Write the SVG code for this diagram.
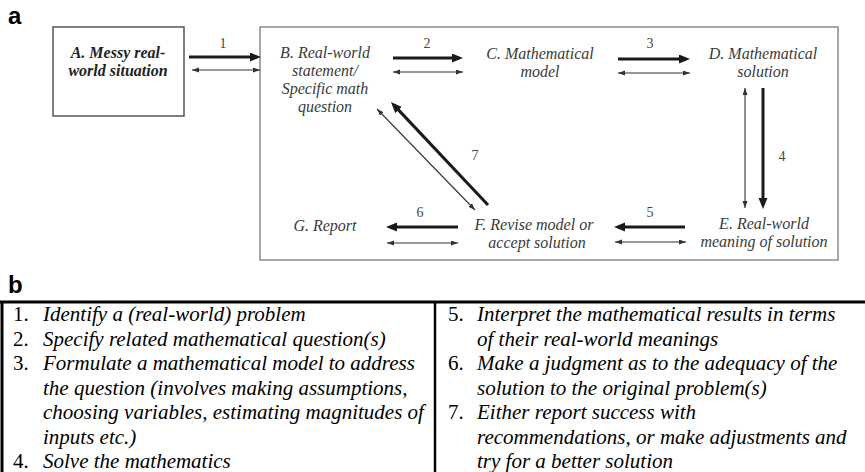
<svg xmlns="http://www.w3.org/2000/svg" width="865" height="472" viewBox="0 0 865 472">
  <style>
    .panel { font-family: "Liberation Sans", Arial, sans-serif; font-weight: bold; font-size: 24px; fill: #000; }
    .node text { font-family: "Liberation Serif", "Times New Roman", serif; font-style: italic; font-size: 16px; fill: #3a3a3a; text-anchor: middle; }
    .node .bold { font-weight: bold; fill: #222; }
    .lbl { font-family: "Liberation Serif", "Times New Roman", serif; font-size: 14px; fill: #444; text-anchor: middle; }
    .thick { stroke: #1a1a1a; stroke-width: 3; fill: none; marker-end: url(#headBig); }
    .thin { stroke: #333; stroke-width: 1.1; fill: none; marker-start: url(#headSmall); marker-end: url(#headSmall); }
    .tbl text { font-family: "Liberation Serif", "Times New Roman", serif; font-size: 21px; fill: #000; }
    .tbl .it { font-style: italic; }
    .rule { stroke: #000; fill: none; }
  </style>
  <defs>
    <marker id="headBig" markerUnits="userSpaceOnUse" markerWidth="12" markerHeight="10" refX="7" refY="4.5" orient="auto">
      <path d="M0,0 L11,4.5 L0,9 z" fill="#1a1a1a"/>
    </marker>
    <marker id="headSmall" markerUnits="userSpaceOnUse" markerWidth="8" markerHeight="6" refX="7" refY="2.5" orient="auto-start-reverse">
      <path d="M0,0 L7,2.5 L0,5 z" fill="#333"/>
    </marker>
  </defs>
  <rect width="865" height="472" fill="#fff"/>

  <!-- panel a -->
  <text class="panel" x="8" y="24">a</text>

  <g id="frame">
    <rect x="260" y="27" width="578" height="233" fill="none" stroke="#8a8a8a" stroke-width="1.5"/>
  </g>

  <g id="nodeA" class="node">
    <rect x="53" y="27" width="131" height="89" fill="#fff" stroke="#555" stroke-width="1.5"/>
    <text class="bold" x="118" y="58">A. Messy real-</text>
    <text class="bold" x="118" y="76">world situation</text>
  </g>
  <g id="nodeB" class="node">
    <text x="325" y="58">B. Real-world</text>
    <text x="325" y="76">statement/</text>
    <text x="325" y="94">Specific math</text>
    <text x="325" y="112">question</text>
  </g>
  <g id="nodeC" class="node">
    <text x="540" y="59">C. Mathematical</text>
    <text x="540" y="77">model</text>
  </g>
  <g id="nodeD" class="node">
    <text x="763" y="59">D. Mathematical</text>
    <text x="763" y="77">solution</text>
  </g>
  <g id="nodeE" class="node">
    <text x="764" y="229">E. Real-world</text>
    <text x="764" y="247">meaning of solution</text>
  </g>
  <g id="nodeF" class="node">
    <text x="534" y="230">F. Revise model or</text>
    <text x="537" y="248">accept solution</text>
  </g>
  <g id="nodeG" class="node">
    <text x="325" y="231">G. Report</text>
  </g>

  <g id="connectors">
    <!-- forward steps (thick) -->
    <line class="thick" x1="189" y1="57" x2="257" y2="57"/>
    <line class="thick" x1="393" y1="58" x2="459" y2="58"/>
    <line class="thick" x1="618" y1="59" x2="686" y2="59"/>
    <line class="thick" x1="763" y1="88" x2="763" y2="205"/>
    <line class="thick" x1="685" y1="227" x2="618" y2="227"/>
    <line class="thick" x1="458" y1="227" x2="390" y2="227"/>
    <line class="thick" x1="488" y1="205" x2="393.7" y2="104.9"/>
    <!-- two-way links (thin) -->
    <line class="thin" x1="192" y1="70" x2="260" y2="70"/>
    <line class="thin" x1="393" y1="72" x2="463" y2="72"/>
    <line class="thin" x1="618" y1="73" x2="690" y2="73"/>
    <line class="thin" x1="745" y1="88" x2="745" y2="208"/>
    <line class="thin" x1="615" y1="242" x2="686" y2="242"/>
    <line class="thin" x1="387" y1="243" x2="458" y2="243"/>
    <line class="thin" x1="377" y1="109" x2="475" y2="210"/>
    <!-- step numbers -->
    <text class="lbl" x="223" y="48">1</text>
    <text class="lbl" x="427" y="48">2</text>
    <text class="lbl" x="650" y="48">3</text>
    <text class="lbl" x="782" y="161">4</text>
    <text class="lbl" x="650" y="217">5</text>
    <text class="lbl" x="420" y="217">6</text>
    <text class="lbl" x="475" y="160">7</text>
  </g>

  <!-- panel b -->
  <text class="panel" x="8" y="293">b</text>
  <g id="table" class="tbl">
    <line class="rule" x1="0" y1="302" x2="865" y2="302" stroke-width="3"/>
    <line class="rule" x1="2" y1="302" x2="2" y2="472" stroke-width="3"/>
    <line class="rule" x1="435" y1="302" x2="435" y2="472" stroke-width="2.5"/>

    <text x="13" y="321">1.</text>
    <text class="it" x="43" y="321">Identify a (real-world) problem</text>
    <text x="13" y="345.5">2.</text>
    <text class="it" x="43" y="345.5">Specify related mathematical question(s)</text>
    <text x="13" y="370">3.</text>
    <text class="it" x="43" y="370">Formulate a mathematical model to address</text>
    <text class="it" x="43" y="394.5">the question (involves making assumptions,</text>
    <text class="it" x="43" y="419">choosing variables, estimating magnitudes of</text>
    <text class="it" x="43" y="443.5">inputs etc.)</text>
    <text x="13" y="468">4.</text>
    <text class="it" x="43" y="468">Solve the mathematics</text>

    <text x="448" y="321">5.</text>
    <text class="it" x="477" y="321">Interpret the mathematical results in terms</text>
    <text class="it" x="477" y="345.5">of their real-world meanings</text>
    <text x="448" y="370">6.</text>
    <text class="it" x="477" y="370">Make a judgment as to the adequacy of the</text>
    <text class="it" x="477" y="394.5">solution to the original problem(s)</text>
    <text x="448" y="419">7.</text>
    <text class="it" x="477" y="419">Either report success with</text>
    <text class="it" x="477" y="443.5">recommendations, or make adjustments and</text>
    <text class="it" x="477" y="468">try for a better solution</text>
  </g>
</svg>
